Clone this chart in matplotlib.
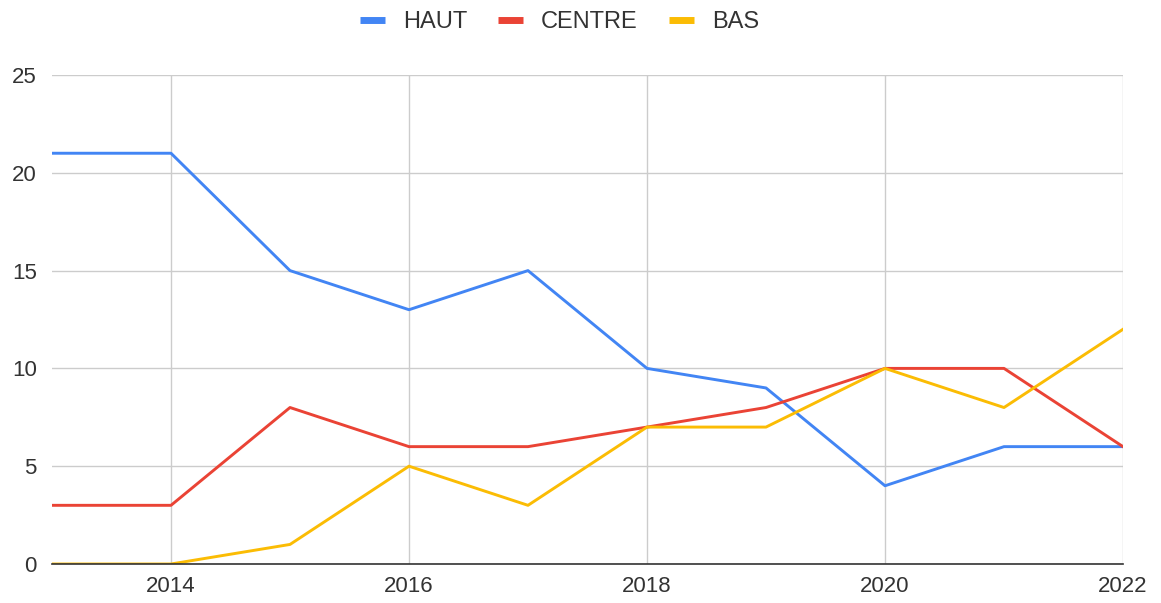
import matplotlib
matplotlib.use("Agg")
import matplotlib.pyplot as plt

years = [2013, 2014, 2015, 2016, 2017, 2018, 2019, 2020, 2021, 2022]
haut = [21, 21, 15, 13, 15, 10, 9, 4, 6, 6]
centre = [3, 3, 8, 6, 6, 7, 8, 10, 10, 6]
bas = [0, 0, 1, 5, 3, 7, 7, 10, 8, 12]
series_names = ["HAUT", "CENTRE", "BAS"]
colors = ["#4285F4", "#EA4335", "#FBBC04"]
xticks = [2014, 2016, 2018, 2020, 2022]
yticks = [0, 5, 10, 15, 20, 25]

plt.rcParams['font.family'] = ['Liberation Sans', 'DejaVu Sans']

fig = plt.figure(figsize=(11.61, 6.03), dpi=100)
ax = fig.add_axes([52/1161, 1-564/603, (1123-52)/1161, (564-75)/603])

for vals, name, c in zip([haut, centre, bas], series_names, colors):
    ax.plot(years, vals, color=c, lw=2.1, label=name, solid_joinstyle='round')

ax.set_xlim(2013, 2022)
ax.set_ylim(0, 25)
ax.set_xticks(xticks)
ax.set_yticks(yticks)
ax.grid(True, color="#cccccc", lw=1.0)
ax.set_axisbelow(True)
for s in ["top", "right", "left"]:
    ax.spines[s].set_visible(False)
ax.spines["bottom"].set_color("#333333")
ax.spines["bottom"].set_linewidth(1.2)
ax.tick_params(length=0, labelsize=16, colors="#333333")
ax.tick_params(axis='x', pad=9)
ax.tick_params(axis='y', pad=11)

leg = fig.legend(loc="center", bbox_to_anchor=(0.4819, 1-22/603), ncol=3, frameon=False,
                 fontsize=17, handlelength=1.06, handletextpad=0.76, columnspacing=1.31,
                 borderpad=0, borderaxespad=0)
for line in leg.get_lines():
    line.set_linewidth(5)
    line.set_solid_capstyle('butt')
for t in leg.get_texts():
    t.set_color("#333333")

fig.savefig("out.png", dpi=100)
